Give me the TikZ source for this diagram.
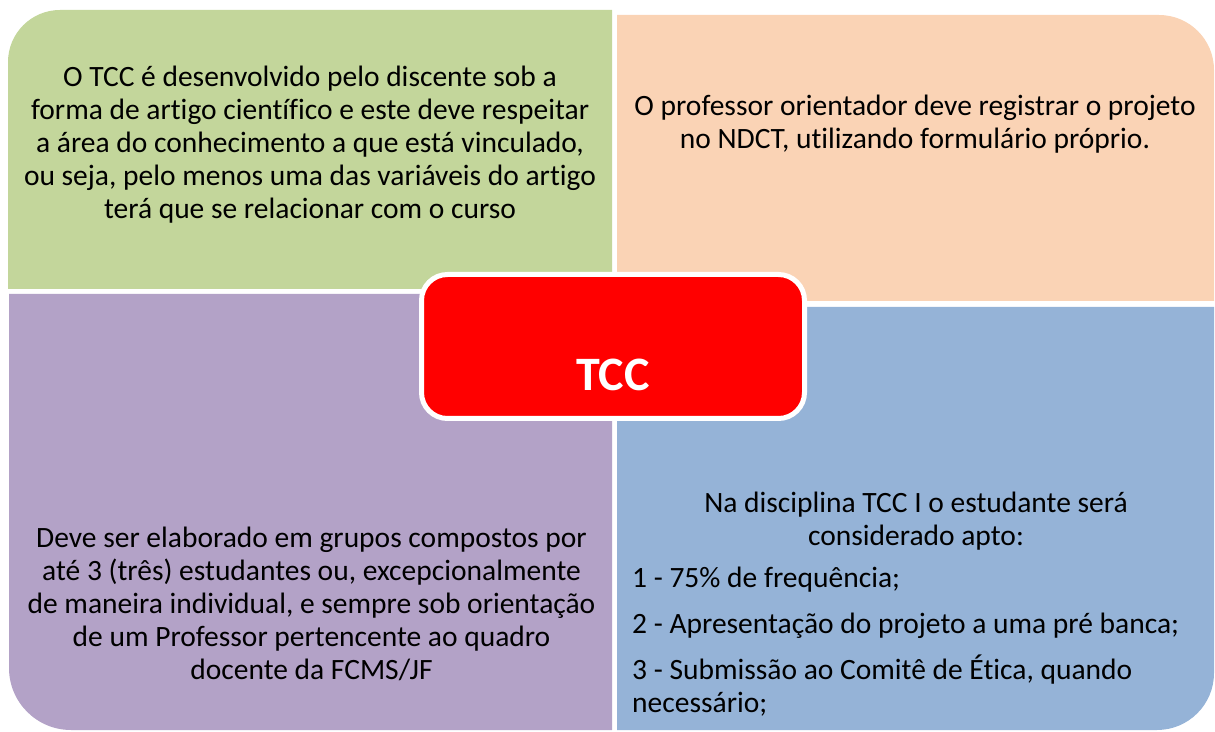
\documentclass[tikz,border=0pt]{standalone}
\usepackage{fontspec}
\setmainfont[Ligatures=CommonOff]{Carlito}
\usepackage{tikz}
\usetikzlibrary{positioning,calc}
\definecolor{verde}{HTML}{C3D69B}
\definecolor{pessego}{HTML}{FAD3B5}
\definecolor{lilas}{HTML}{B3A2C7}
\definecolor{azul}{HTML}{95B3D7}
\definecolor{vermelho}{HTML}{FF0000}

\begin{document}
\begin{tikzpicture}[x=1pt,y=1pt,
    texto/.style={align=center,font=\fontsize{29.5}{33}\selectfont,inner sep=0pt},
    centro/.style={fill=vermelho,draw=white,line width=5pt,rounded corners=26pt,
      minimum width=383pt,minimum height=144pt}]
  \useasboundingbox (0,0) rectangle (1215,731);
  % quadrantes
  \fill[verde] (8,442) -- (8,669) arc[start angle=180,end angle=90,radius=52] -- (612,721) -- (612,442) -- cycle;
  \fill[pessego] (617,430) -- (617,716) -- (1159,716) arc[start angle=90,end angle=0,radius=55] -- (1214,430) -- cycle;
  \fill[lilas] (9,437) -- (9,63) arc[start angle=180,end angle=270,radius=62] -- (612,1) -- (612,437) -- cycle;
  \fill[azul] (617,424) -- (617,1) -- (1157,1) arc[start angle=270,end angle=360,radius=57] -- (1214,424) -- cycle;
  % textos
  \node[texto] (txtverde) at (310,586) {O TCC é desenvolvido pelo discente sob a\\
    forma de artigo científico e este deve respeitar\\
    a área do conhecimento a que está vinculado,\\
    ou seja, pelo menos uma das variáveis do artigo\\
    terá que se relacionar com o curso};
  \node[texto] (txtpessego) at (915,607) {O professor orientador deve registrar o projeto\\
    no NDCT, utilizando formulário próprio.};
  \node[texto] (txtlilas) at (311.5,127) {Deve ser elaborado em grupos compostos por\\
    até 3 (três) estudantes ou, excepcionalmente\\
    de maneira individual, e sempre sob orientação\\
    de um Professor pertencente ao quadro\\
    docente da FCMS/JF};
  \node[texto] (txtazul) at (916,210) {Na disciplina TCC I o estudante será\\
    considerado apto:};
  \node[texto,align=left,anchor=west] (itens) at (632,89) {1 - 75\% de frequência;\\[13pt]
    2 - Apresentação do projeto a uma pré banca;\\[13pt]
    3 - Submissão ao Comitê de Ética, quando\\
    necessário;};
  % centro
  \node[centro] (tcc) at (613,384.5) {};
  \node[font=\fontsize{48}{52}\selectfont\bfseries,text=white] (tcctxt) at (613,356) {TCC};
\end{tikzpicture}
\end{document}
